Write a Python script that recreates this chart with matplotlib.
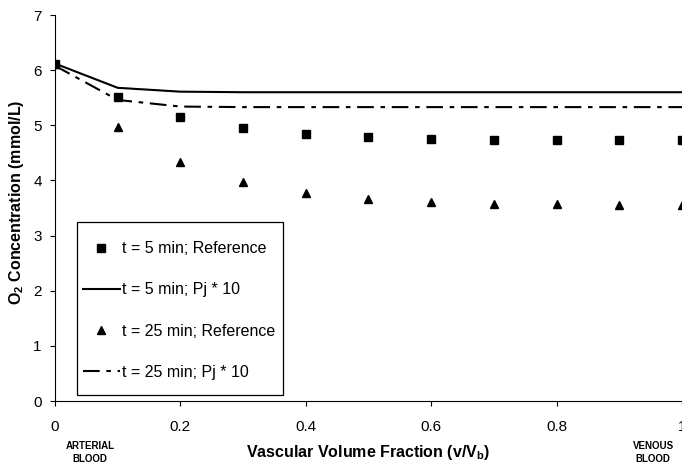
import matplotlib
matplotlib.use("Agg")
import matplotlib.pyplot as plt
from matplotlib.patches import Rectangle

plt.rcParams['font.family'] = ['Liberation Sans', 'DejaVu Sans']
plt.rcParams['mathtext.fontset'] = 'custom'
plt.rcParams['mathtext.rm'] = 'Liberation Sans:bold'
plt.rcParams['mathtext.bf'] = 'Liberation Sans:bold'

x = [0, 0.1, 0.2, 0.3, 0.4, 0.5, 0.6, 0.7, 0.8, 0.9, 1.0]
ref5 = [6.12, 5.52, 5.15, 4.95, 4.85, 4.79, 4.76, 4.74, 4.74, 4.74, 4.74]
pj5 = [6.12, 5.68, 5.61, 5.60, 5.60, 5.60, 5.60, 5.60, 5.60, 5.60, 5.60]
ref25 = [6.12, 4.97, 4.33, 3.98, 3.78, 3.67, 3.61, 3.58, 3.57, 3.56, 3.56]
pj25 = [6.08, 5.46, 5.34, 5.33, 5.33, 5.33, 5.33, 5.33, 5.33, 5.33, 5.33]
labels = ["t = 5 min; Reference", "t = 5 min; Pj * 10",
          "t = 25 min; Reference", "t = 25 min; Pj * 10"]
xtick_vals = [0, 0.2, 0.4, 0.6, 0.8, 1.0]
xtick_labels = ['0', '0.2', '0.4', '0.6', '0.8', '1']

fig = plt.figure(figsize=(6.82, 4.65), dpi=100)
ax = fig.add_axes([0.0806, 0.1376, 0.9194, 0.8301])

ax.plot(x, ref5, linestyle='none', marker='s', markersize=5.5, color='black', label=labels[0])
ax.plot(x, pj5, linestyle='-', linewidth=1.5, color='black', label=labels[1])
ax.plot(x, ref25, linestyle='none', marker='^', markersize=6, color='black', label=labels[2])
ax.plot(x, pj25, linestyle=(0, (8, 3.2, 2.2, 3.2)), linewidth=1.5, color='black', label=labels[3])

ax.set_xlim(0, 1)
ax.set_ylim(0, 7)
ax.set_xticks(xtick_vals)
ax.set_xticklabels(xtick_labels)
ax.set_yticks(range(0, 8))
ax.spines['top'].set_visible(False)
ax.spines['right'].set_visible(False)
ax.tick_params(direction='out', length=3.6, labelsize=11, width=0.8)
ax.tick_params(axis='x', pad=10)
ax.tick_params(axis='y', pad=6)

ax.set_ylabel(r'O$_\mathbf{2}$ Concentration (mmol/L)', fontsize=11.5, fontweight='bold')
ax.yaxis.set_label_coords(-0.046, 0.516)
ax.set_xlabel(r'Vascular Volume Fraction (v/V$_\mathbf{b}$)', fontsize=11.5, fontweight='bold')
ax.xaxis.set_label_coords(0.5, -0.134)
ax.xaxis.label.set_va('center')

ax.text(0.056, -0.104, 'ARTERIAL\nBLOOD', transform=ax.transAxes, ha='center', va='top',
        fontsize=7, fontweight='bold', linespacing=1.3)
ax.text(0.954, -0.104, 'VENOUS\nBLOOD', transform=ax.transAxes, ha='center', va='top',
        fontsize=7, fontweight='bold', linespacing=1.3)

# legend frame
ax.add_patch(Rectangle((0.0351, 0.0155), 0.329, 0.448, transform=ax.transAxes,
                       facecolor='white', edgecolor='black', linewidth=0.9, zorder=4))
leg = ax.legend(loc='upper left', bbox_to_anchor=(0.0447, 0.414), fontsize=11.5,
                labelspacing=1.64, handlelength=2.3, handletextpad=0.12,
                borderpad=0, frameon=False, borderaxespad=0)
leg.set_zorder(5)

fig.savefig('out.png', dpi=100)
